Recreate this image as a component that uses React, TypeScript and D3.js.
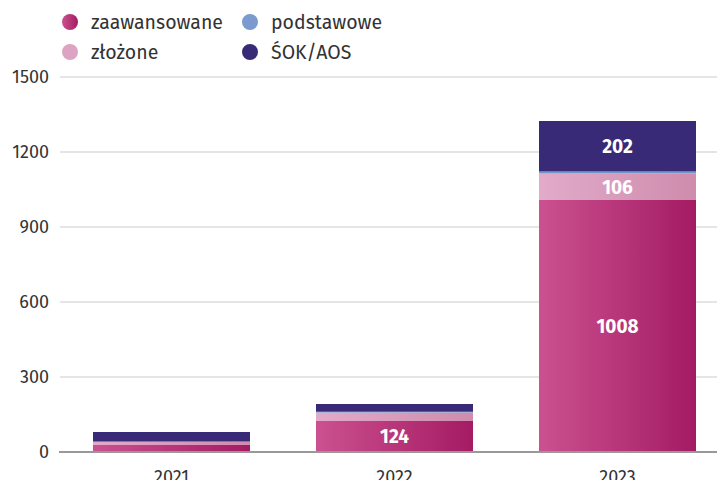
import React from "react";
import * as d3 from "d3";

const years = ["2021", "2022", "2023"];
const zaawansowane = [30, 124, 1008];
const zlozone = [10, 34, 106];
const podstawowe = [2, 3, 8];
const sokAos = [38, 31, 202];
const seriesNames = ["zaawansowane", "złożone", "podstawowe", "ŚOK/AOS"];
const yTicks = [0, 300, 600, 900, 1200, 1500];

const W = 717;
const H = 480;
const FONT = "'Fira Sans', 'Noto Sans', 'Open Sans', sans-serif";

export default function App() {
  const x = d3.scaleBand<string>().domain(years).range([60, 729]).paddingInner(0.296).paddingOuter(0.148);
  const y = d3.scaleLinear().domain([0, 1500]).range([452, 77]);

  const rows = years.map((yr, i) => ({
    year: yr,
    zaawansowane: zaawansowane[i],
    "złożone": zlozone[i],
    podstawowe: podstawowe[i],
    "ŚOK/AOS": sokAos[i],
  }));
  const stack = d3.stack<any>().keys(seriesNames);
  const layers = stack(rows);
  const fills = ["url(#gZaaw)", "url(#gZloz)", "#7196cc", "#382a76"];

  const legend = [
    { name: "zaawansowane", fill: "url(#gZawL)", cx: 70, cy: 22 },
    { name: "podstawowe", fill: "#7a9ad0", cx: 250, cy: 22 },
    { name: "złożone", fill: "#dda3c2", cx: 70, cy: 52 },
    { name: "ŚOK/AOS", fill: "#382a76", cx: 250, cy: 52 },
  ];

  return (
    <svg width={W} height={H} style={{ display: "block", position: "absolute", left: 0, top: 0 }} fontFamily={FONT}>
      <defs>
        <linearGradient id="gZaaw" x1="0" x2="1" y1="0" y2="0">
          <stop offset="0" stopColor="#cb5190" />
          <stop offset="1" stopColor="#a41b63" />
        </linearGradient>
        <linearGradient id="gZawL" x1="0" x2="1" y1="0" y2="0">
          <stop offset="0" stopColor="#cb5190" />
          <stop offset="1" stopColor="#a41b63" />
        </linearGradient>
        <linearGradient id="gZloz" x1="0" x2="1" y1="0" y2="0">
          <stop offset="0" stopColor="#e2abc9" />
          <stop offset="1" stopColor="#cf8cad" />
        </linearGradient>
      </defs>
      <rect width={W} height={H} fill="#fff" />
      {yTicks.map((t) => (
        <g key={t}>
          {t !== 0 && <line x1={60} x2={W} y1={y(t)} y2={y(t)} stroke="#dcdcdc" strokeWidth={1.3} />}
          <text x={49} y={y(t)} dy="0.36em" textAnchor="end" fontSize={18} fill="#333">
            {t}
          </text>
        </g>
      ))}
      {layers.map((layer, li) =>
        layer.map((d, i) => (
          <rect
            key={`${li}-${i}`}
            x={x(years[i])}
            width={x.bandwidth()}
            y={y(d[1])}
            height={y(d[0]) - y(d[1])}
            fill={fills[li]}
          />
        ))
      )}
      {layers.map((layer, li) =>
        layer.map((d, i) => {
          const v = d[1] - d[0];
          if (y(d[0]) - y(d[1]) < 18) return null;
          return (
            <text
              key={`l${li}-${i}`}
              x={(x(years[i]) as number) + x.bandwidth() / 2}
              y={(y(d[0]) + y(d[1])) / 2}
              dy="0.36em"
              textAnchor="middle"
              fontSize={19}
              fontWeight="bold"
              fill="#fff"
            >
              {v}
            </text>
          );
        })
      )}
      <line x1={59} x2={W} y1={452} y2={452} stroke="#999" strokeWidth={2.2} />
      {years.map((yr) => (
        <text key={yr} x={(x(yr) as number) + x.bandwidth() / 2} y={483} textAnchor="middle" fontSize={18} fill="#333">
          {yr}
        </text>
      ))}
      {legend.map((l) => (
        <g key={l.name}>
          <circle cx={l.cx} cy={l.cy} r={8} fill={l.fill} />
          <text x={l.cx + 21} y={l.cy} dy="0.36em" fontSize={19.5} fill="#333">
            {l.name}
          </text>
        </g>
      ))}
    </svg>
  );
}
